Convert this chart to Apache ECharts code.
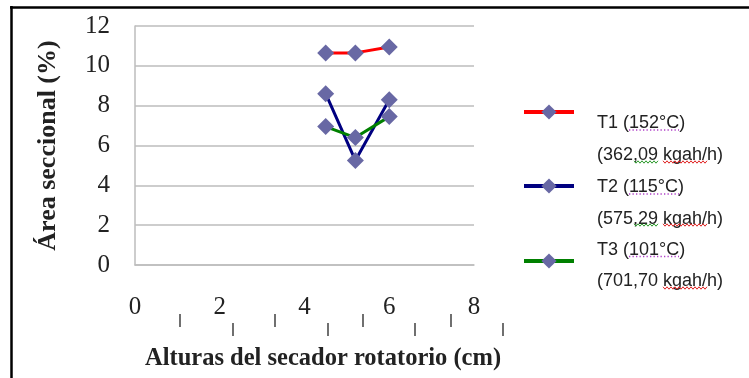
<!DOCTYPE html>
<html>
<head>
<meta charset="utf-8">
<script src="https://cdn.jsdelivr.net/npm/echarts@6/dist/echarts.min.js"></script>
<style>
  html, body { margin: 0; padding: 0; background: #ffffff; }
  #chart { width: 749px; height: 378px; }
</style>
</head>
<body>
<div id="chart"></div>
<script>
// Heights along the rotary dryer (cm)
const alturas = [4.5, 5.2, 6.0];

// Sectional area (%) per treatment
const t1Area = [10.65, 10.65, 10.95];
const t2Area = [8.6, 5.25, 8.3];
const t3Area = [6.95, 6.4, 7.45];

const seriesNames = [
  'T1 (152°C)\n(362,09 kgah/h)',
  'T2 (115°C)\n(575,29 kgah/h)',
  'T3 (101°C)\n(701,70 kgah/h)'
];
const seriesColors = ['#ff0000', '#000080', '#008000'];
const seriesValues = [t1Area, t2Area, t3Area];

const xTicks = { min: 0, max: 8, interval: 2 };
const yTicks = { min: 0, max: 12, interval: 2 };

const markerColor = '#6868a4';
const gridGrey = '#bdbdbd';
const serif = '"Liberation Serif", "DejaVu Serif", serif';
const sans = '"Liberation Sans", Arial, sans-serif';

const chart = echarts.init(document.getElementById('chart'));

const series = seriesValues.map((vals, i) => ({
  name: seriesNames[i],
  type: 'line',
  data: alturas.map((x, j) => [x, vals[j]]),
  symbol: 'diamond',
  symbolSize: 17,
  showSymbol: true,
  animation: false,
  lineStyle: { color: seriesColors[i], width: 3 },
  itemStyle: { color: markerColor, borderWidth: 0 },
  emphasis: { disabled: true },
  z: 2 + i
}));

// One legend block per treatment. The labels run as an evenly spaced
// column, so each block gets its own spacer above the two text lines.
const legendTops = [53.25, 137.25, 224.75];
const legendSpacers = [54.5, 34.5, 9.5];
const legends = seriesNames.map((name, i) => ({
  data: [name],
  left: 522,
  top: legendTops[i],
  padding: 0,
  orient: 'vertical',
  itemWidth: 50,
  itemHeight: 19,
  itemGap: 0,
  selectedMode: false,
  lineStyle: { width: 4 },
  formatter: n => {
    const lines = n.split('\n');
    return '{s| }\n{a|' + lines[0] + '}\n{a|' + lines[1] + '}';
  },
  textStyle: {
    fontFamily: sans,
    fontSize: 18,
    color: '#222222',
    rich: {
      s: { height: legendSpacers[i], lineHeight: legendSpacers[i], fontSize: 1 },
      a: { fontFamily: sans, fontSize: 18, color: '#222222', lineHeight: 31.5, height: 31.5, padding: [0, 0, 0, 18] }
    }
  }
}));

// proofing marks under some legend words
function wavy(x1, x2, y, color) {
  const pts = [];
  let up = true;
  for (let x = x1; x <= x2; x += 2) {
    pts.push([x, y + (up ? -1.2 : 1.2)]);
    up = !up;
  }
  return { type: 'polyline', shape: { points: pts }, style: { stroke: color, lineWidth: 1, fill: null }, z: 10 };
}
function dotted(x1, x2, y) {
  return {
    type: 'line', shape: { x1: x1, y1: y, x2: x2, y2: y },
    style: { stroke: '#b040c8', lineWidth: 1.3, lineDash: [1.3, 2.2] }, z: 10
  };
}
const proofMarks = [
  dotted(629, 679, 130), wavy(634, 658, 162, '#2a9a2a'), wavy(663, 707, 162, '#e02020'),
  dotted(629, 679, 194), wavy(634, 658, 225, '#2a9a2a'), wavy(663, 707, 225, '#e02020'),
  dotted(629, 679, 256.5), wavy(663, 707, 288, '#e02020')
];

// small stray tick strokes below the horizontal axis
const strayUpper = [180, 275, 363, 451];
const strayLower = [233, 328, 415, 503];
const strayGraphics = [];
strayUpper.forEach(x => strayGraphics.push({
  type: 'line', shape: { x1: x, y1: 314, x2: x, y2: 327 },
  style: { stroke: '#222', lineWidth: 1.3 }
}));
strayLower.forEach(x => strayGraphics.push({
  type: 'line', shape: { x1: x, y1: 323, x2: x, y2: 336 },
  style: { stroke: '#222', lineWidth: 1.3 }
}));

chart.setOption({
  backgroundColor: '#ffffff',
  animation: false,
  grid: { left: 135, right: 275, top: 26, bottom: 113 },
  xAxis: {
    type: 'value',
    min: xTicks.min,
    max: xTicks.max,
    interval: xTicks.interval,
    axisLine: { show: true, lineStyle: { color: gridGrey, width: 1.5 } },
    axisTick: { show: false },
    splitLine: { show: false },
    axisLabel: {
      margin: 30,
      fontFamily: serif,
      fontSize: 25,
      color: '#222222'
    }
  },
  yAxis: {
    type: 'value',
    min: yTicks.min,
    max: yTicks.max,
    interval: yTicks.interval,
    name: 'Área seccional (%)',
    nameLocation: 'middle',
    nameGap: 74,
    nameTextStyle: {
      fontFamily: serif,
      fontWeight: 'bold',
      fontSize: 26,
      color: '#222222'
    },
    axisLine: { show: true, lineStyle: { color: gridGrey, width: 1.5 } },
    axisTick: { show: false },
    splitLine: { show: true, lineStyle: { color: gridGrey, width: 1.5 } },
    axisLabel: {
      margin: 25,
      fontFamily: serif,
      fontSize: 25,
      color: '#222222'
    }
  },
  legend: legends,
  series: series,
  graphic: [
    {
      type: 'line', shape: { x1: 10, y1: 7.5, x2: 749, y2: 7.5 },
      style: { stroke: '#000', lineWidth: 2.5 }
    },
    {
      type: 'line', shape: { x1: 11.5, y1: 6, x2: 11.5, y2: 378 },
      style: { stroke: '#000', lineWidth: 2.5 }
    },
    {
      type: 'text', left: 145, top: 346,
      style: {
        text: 'Alturas del secador rotatorio (cm)',
        font: 'bold 24.5px ' + serif,
        fill: '#222222'
      }
    }
  ].concat(strayGraphics, proofMarks)
});
</script>
</body>
</html>
